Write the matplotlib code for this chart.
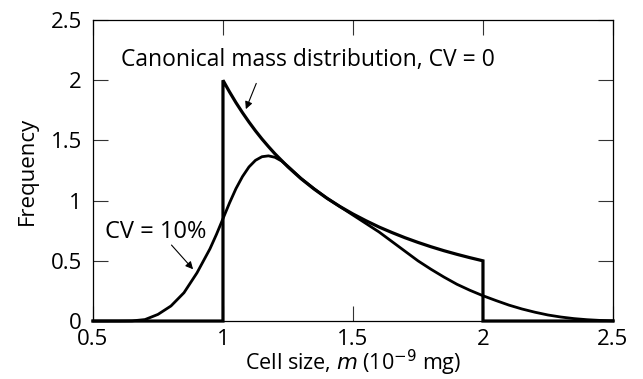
import numpy as np
import matplotlib.pyplot as plt

plt.rcParams['font.family'] = ['Open Sans', 'DejaVu Sans']

# canonical mass distribution (CV = 0)
m_canon = [1.000, 1.025, 1.050, 1.075, 1.100, 1.125, 1.150, 1.175, 1.200,
           1.25, 1.30, 1.35, 1.40, 1.45, 1.50, 1.55, 1.60, 1.65, 1.70,
           1.75, 1.80, 1.85, 1.90, 1.95, 2.00]
f_canon = [2.000, 1.904, 1.814, 1.731, 1.653, 1.580, 1.512, 1.449, 1.389,
           1.28, 1.183, 1.097, 1.020, 0.951, 0.889, 0.833, 0.781, 0.735, 0.692,
           0.653, 0.617, 0.584, 0.554, 0.526, 0.500]

# CV = 10% curve
m_cv10 = [0.50, 0.60, 0.65, 0.70, 0.75, 0.80, 0.85, 0.90, 0.95, 0.975,
          1.000, 1.025, 1.050, 1.075, 1.100, 1.125, 1.150, 1.175, 1.200,
          1.225, 1.250, 1.275, 1.30, 1.35, 1.40, 1.45, 1.50, 1.55, 1.60,
          1.65, 1.70, 1.75, 1.80, 1.85, 1.90, 1.95, 2.00, 2.05, 2.10, 2.15,
          2.20, 2.25, 2.30, 2.35, 2.40, 2.45, 2.50]
f_cv10 = [0.0, 0.0, 0.001, 0.012, 0.055, 0.125, 0.235, 0.40, 0.60, 0.72,
          0.85, 0.98, 1.10, 1.20, 1.28, 1.335, 1.365, 1.372, 1.36,
          1.33, 1.285, 1.235, 1.185, 1.10, 1.02, 0.95, 0.88, 0.81, 0.74,
          0.66, 0.58, 0.50, 0.43, 0.365, 0.305, 0.255, 0.21, 0.17, 0.132, 0.10,
          0.073, 0.05, 0.033, 0.02, 0.011, 0.005, 0.002]

fig = plt.figure(figsize=(6.43, 3.79), dpi=100)
ax = fig.add_axes([0.1446, 0.153, 0.8087, 0.794])

# step shape of the canonical distribution
x_c = [0.5, 1.0] + m_canon + [2.0, 2.5]
y_c = [0.0, 0.0] + f_canon + [0.0, 0.0]
ax.plot(x_c, y_c, color='black', lw=2.3, solid_joinstyle='miter', clip_on=False)
ax.plot(m_cv10, f_cv10, color='black', lw=2.0, clip_on=False)

ax.set_xlim(0.5, 2.5)
ax.set_ylim(0, 2.5)
ax.set_xticks([0.5, 1, 1.5, 2, 2.5])
ax.set_xticklabels(['0.5', '1', '1.5', '2', '2.5'])
ax.set_yticks([0, 0.5, 1, 1.5, 2, 2.5])
ax.set_yticklabels(['0', '0.5', '1', '1.5', '2', '2.5'])
ax.tick_params(direction='in', length=11, width=0.8, top=True, right=True,
               labelsize=16, color='#333333')
ax.tick_params(axis='x', pad=6)
ax.tick_params(axis='y', pad=8)
for s in ax.spines.values():
    s.set_linewidth(0.9)

ax.set_xlabel('Cell size, $m$ (10$^{-9}$ mg)', fontsize=15.5, va='baseline')
ax.xaxis.set_label_coords(0.5, -0.163)
ax.set_ylabel('Frequency', fontsize=16, labelpad=9)

arrow = dict(arrowstyle='-|>', color='black', lw=0.8, mutation_scale=11,
             shrinkA=0, shrinkB=0)
ax.text(1.327, 2.17, 'Canonical mass distribution, CV = 0', ha='center',
        va='center', fontsize=16.5)
ax.annotate('', xy=(1.088, 1.76), xytext=(1.128, 1.974), arrowprops=arrow)
ax.text(0.74, 0.74, 'CV = 10%', ha='center', va='center', fontsize=17)
ax.annotate('', xy=(0.885, 0.43), xytext=(0.802, 0.631), arrowprops=arrow)

fig.savefig('out.png', dpi=100)
